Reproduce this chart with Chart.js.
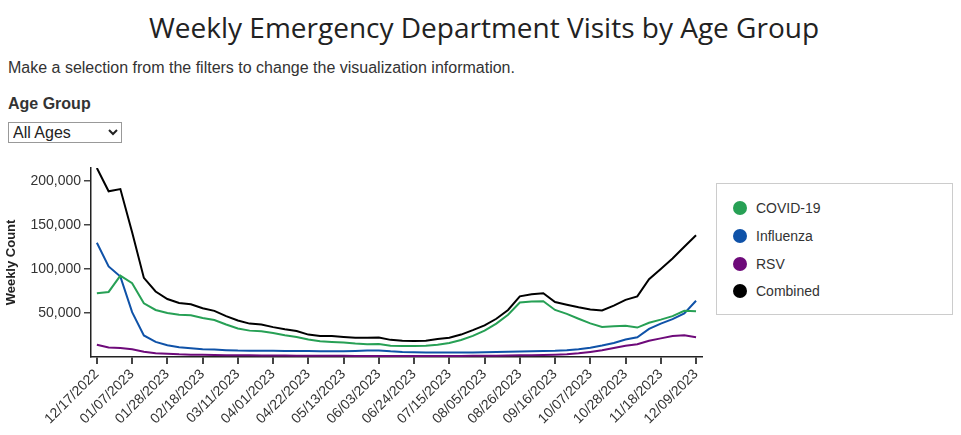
<!DOCTYPE html>
<html lang="en">
<head>
    <meta charset="UTF-8">
    <title>Weekly Emergency Department Visits by Age Group</title>
    <style>
        body {
            margin: 0;
            width: 961px;
            height: 435px;
            background: #fff;
            font-family: "Liberation Sans", Arial, sans-serif;
            color: #333;
            position: relative;
            overflow: hidden;
        }
        h1 {
            position: absolute;
            left: 0;
            top: 8px;
            width: 968px;
            margin: 0;
            text-align: center;
            font-family: "Open Sans", sans-serif;
            font-weight: 400;
            font-size: 28px;
            color: #222;
        }
        .intro {
            position: absolute;
            left: 8px;
            top: 59px;
            margin: 0;
            font-size: 16px;
        }
        .filter-label {
            position: absolute;
            left: 8px;
            top: 95px;
            font-size: 16px;
            font-weight: bold;
            color: #333;
        }
        select {
            position: absolute;
            left: 8px;
            top: 122px;
            width: 114px;
            height: 21px;
            font-family: "Liberation Sans", Arial, sans-serif;
            font-size: 16px;
            border: 1px solid #999;
            background: #fff;
            color: #222;
            padding: 0;
        }
        .chart-box {
            position: absolute;
            left: 0;
            top: 155px;
            width: 710px;
            height: 280px;
        }
        #legend {
            position: absolute;
            left: 716px;
            top: 183px;
            width: 237px;
            height: 132px;
            border: 1px solid #ccc;
            box-sizing: border-box;
        }
        .item {
            position: absolute;
            left: 16px;
            height: 16px;
            font-size: 14px;
            color: #333;
            line-height: 16px;
        }
        .item span {
            position: absolute;
            left: 0;
            top: 1px;
            width: 14px;
            height: 14px;
            border-radius: 50%;
        }
        .item b {
            font-weight: normal;
            margin-left: 23px;
            white-space: nowrap;
        }
    </style>
</head>
<body>
    <h1>Weekly Emergency Department Visits by Age Group</h1>
    <p class="intro">Make a selection from the filters to change the visualization information.</p>
    <div class="filter-label">Age Group</div>
    <select><option>All Ages</option></select>
    <div class="chart-box"><canvas id="grafico"></canvas></div>
    <div id="legend"></div>

    <script src="https://cdn.jsdelivr.net/npm/chart.js"></script>
    <script>
        const weeks = [
            '12/17/2022', '12/24/2022', '12/31/2022', '01/07/2023', '01/14/2023', '01/21/2023', '01/28/2023',
            '02/04/2023', '02/11/2023', '02/18/2023', '02/25/2023', '03/04/2023', '03/11/2023', '03/18/2023',
            '03/25/2023', '04/01/2023', '04/08/2023', '04/15/2023', '04/22/2023', '04/29/2023', '05/06/2023',
            '05/13/2023', '05/20/2023', '05/27/2023', '06/03/2023', '06/10/2023', '06/17/2023', '06/24/2023',
            '07/01/2023', '07/08/2023', '07/15/2023', '07/22/2023', '07/29/2023', '08/05/2023', '08/12/2023',
            '08/19/2023', '08/26/2023', '09/02/2023', '09/09/2023', '09/16/2023', '09/23/2023', '09/30/2023',
            '10/07/2023', '10/14/2023', '10/21/2023', '10/28/2023', '11/04/2023', '11/11/2023', '11/18/2023',
            '11/25/2023', '12/02/2023', '12/09/2023'
        ];
        const covid = [
            72500, 74000, 92500, 84000, 61000, 53500, 50000, 48000, 47500, 44300, 42000, 37000, 32500,
            30000, 29200, 27400, 24700, 22800, 19800, 17900, 17200, 16400, 15300, 14500, 14800, 12700,
            12500, 12400, 12800, 14000, 16000, 19400, 24000, 30000, 38000, 48000, 62000, 63000, 63500,
            53500, 49000, 43500, 38200, 34200, 34900, 35500, 33500, 39000, 42500, 46500, 52500, 52000
        ];
        const influenza = [
            130000, 103000, 91500, 51000, 24500, 17200, 13400, 11100, 10000, 8800, 8400, 7800, 7300,
            7200, 7000, 7000, 6900, 6900, 6800, 6500, 6400, 6500, 6800, 7300, 7500, 6500,
            5800, 5500, 5200, 5000, 5000, 5100, 5200, 5300, 5600, 6000, 6300, 6500, 6700,
            7000, 7600, 8800, 10600, 13000, 16000, 20000, 22500, 32000, 38000, 43000, 49500, 64000
        ];
        const rsv = [
            14000, 10800, 10300, 8800, 6000, 4400, 3600, 3000, 2700, 2500, 2300, 2100, 2000,
            1900, 1800, 1700, 1600, 1500, 1400, 1400, 1300, 1300, 1200, 1200, 1200, 1100,
            1100, 1100, 1100, 1100, 1200, 1200, 1300, 1400, 1500, 1700, 1900, 2100, 2400,
            2700, 3200, 4200, 5800, 7600, 10200, 12800, 14500, 18500, 21200, 23800, 24600, 22500
        ];
        const combined = [
            215000, 188500, 191000, 142000, 90000, 74500, 66000, 61500, 60000, 55500, 52500, 46500, 41500,
            38000, 37000, 34000, 31500, 29500, 25500, 24000, 24000, 22800, 21800, 22000, 22300, 19500,
            18500, 18300, 18600, 20500, 22000, 25500, 30500, 36000, 43500, 53500, 69000, 71500, 72500,
            62500, 59500, 56500, 54000, 53000, 58500, 65000, 69000, 88500, 100000, 112000, 125500, 138500
        ];
        const seriesNames = ['COVID-19', 'Influenza', 'RSV', 'Combined'];
        const seriesColors = ['#27a055', '#0f52a8', '#6e0a7a', '#000000'];
        const yTicks = [50000, 100000, 150000, 200000];

        const allSeries = [covid, influenza, rsv, combined];

        function makeDataset(i) {
            return {
                label: seriesNames[i],
                data: allSeries[i],
                borderColor: seriesColors[i],
                backgroundColor: seriesColors[i],
                borderWidth: 2,
                pointRadius: 0,
                tension: 0,
                fill: false
            };
        }

        let ctx = document.getElementById('grafico').getContext('2d');
        new Chart(ctx, {
            type: 'line',
            data: {
                labels: weeks,
                datasets: [makeDataset(0), makeDataset(1), makeDataset(2), makeDataset(3)]
            },
            options: {
                responsive: true,
                maintainAspectRatio: false,
                animation: false,
                layout: { padding: { top: 13, right: 8, left: 0, bottom: 0 } },
                plugins: {
                    legend: { display: false },
                    tooltip: { enabled: false }
                },
                scales: {
                    x: {
                        offset: true,
                        border: { color: '#222', width: 1.5 },
                        grid: { drawOnChartArea: false, drawTicks: true, tickLength: 7, color: '#444', lineWidth: 2 },
                        ticks: {
                            autoSkip: false,
                            minRotation: 45,
                            maxRotation: 45,
                            padding: 2,
                            color: '#333',
                            font: { family: 'Liberation Sans, Arial, sans-serif', size: 14 },
                            callback: function (value, index) {
                                return index % 3 === 0 ? weeks[index] : null;
                            }
                        },
                        afterFit: function (scale) { scale.height = 78; }
                    },
                    y: {
                        min: 0,
                        max: 215000,
                        border: { color: '#222', width: 1.5 },
                        grid: { drawOnChartArea: false, drawTicks: true, tickLength: 7, color: '#444', lineWidth: 1.5 },
                        afterBuildTicks: function (scale) {
                            scale.ticks = yTicks.map(v => ({ value: v }));
                        },
                        ticks: {
                            padding: 3,
                            color: '#333',
                            font: { family: 'Liberation Sans, Arial, sans-serif', size: 14 },
                            callback: function (value) {
                                return value.toLocaleString('en-US');
                            }
                        },
                        title: {
                            display: true,
                            text: 'Weekly Count',
                            color: '#222',
                            font: { family: 'Liberation Sans, Arial, sans-serif', size: 13, weight: 'bold' },
                            padding: { top: 4, bottom: 0 }
                        },
                        afterFit: function (scale) { scale.width = 91; }
                    }
                }
            }
        });

        // legend as html box on the right
        let legend = document.getElementById('legend');
        let tops = [16, 44, 72, 99];
        seriesNames.forEach(function (name, i) {
            let div = document.createElement('div');
            div.className = 'item';
            div.style.top = tops[i] + 'px';
            div.innerHTML = '<span style="background:' + seriesColors[i] + '"></span><b>' + name + '</b>';
            legend.appendChild(div);
        });
    </script>
</body>
</html>
